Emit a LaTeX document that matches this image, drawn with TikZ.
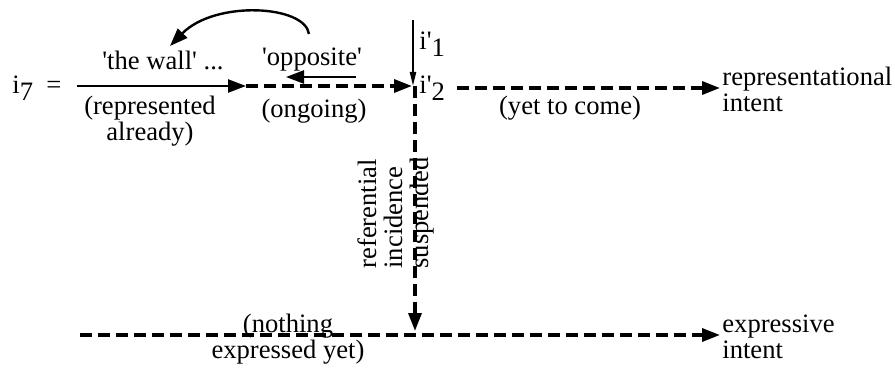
\documentclass[tikz,border=0pt]{standalone}
\usepackage{fontspec}
\setmainfont{Liberation Serif}
\usetikzlibrary{arrows.meta}
\newcommand{\lowidx}[1]{\raisebox{-0.6ex}{#1}}
\newcommand{\tick}{\textquotesingle}

\begin{document}
\begin{tikzpicture}[
  x=0.5pt,
  y=-0.5pt,
  font=\fontsize{13.3}{13}\selectfont,
  lbl/.style={inner sep=1pt, align=center},
  solidflow/.style={-{Triangle[length=9pt,width=6.5pt]}, line width=1.2pt},
  dashflow/.style={-{Triangle[length=9pt,width=6.5pt]}, line width=1.7pt,
    dash pattern=on 6pt off 3pt},
  thinflow/.style={-{Triangle[length=7pt,width=3pt]}, line width=1pt}
]
\useasboundingbox (0,0) rectangle (895,369);

% labels of the upper line
\node[lbl, anchor=west] (lhs) at (10,88) {i\lowidx{7}\ \ =};
\node[lbl] (wall) at (163,60) {\tick the wall\tick\ ...};
\node[lbl] (opposite) at (312,60) {\tick opposite\tick};
\node[lbl, font=\fontsize{13.3}{11}\selectfont] (represented) at (150,121)
  {(represented\\already)};
\node[lbl] (ongoing) at (314,111) {(ongoing)};
\node[lbl] (yet) at (570,108) {(yet to come)};
\node[lbl, anchor=west] (i1) at (417,44) {i\tick\lowidx{1}};
\node[lbl, anchor=west] (i2) at (417,88) {i\tick\lowidx{2}};
\node[lbl, align=left, anchor=west] (repint) at (720,89)
  {representational\\intent};

% labels of the lower line
\node[lbl, rotate=90, align=left] (suspended) at (396,213)
  {referential\\incidence\\suspended};
\node[lbl] (nothing) at (288,339) {(nothing\\expressed yet)};
\node[lbl, align=left, anchor=west] (expint) at (720,337)
  {expressive\\intent};

\coordinate (start) at (77,86);
\coordinate (split) at (246,86);
\coordinate (ongoingend) at (412,86);
\coordinate (cross) at (415,86);
\coordinate (top) at (413,20);
\coordinate (low) at (415,331);
\coordinate (exstart) at (80,335);
\coordinate (oppright) at (356,77);
\coordinate (oppleft) at (286,77);
\coordinate (arcstart) at (309,34);
\coordinate (arcend) at (170,46);

\draw[solidflow] (start) -- (split);
\draw[dashflow] (split) -- (ongoingend);
\draw[thinflow] (top) -- (top |- cross);
\draw[dashflow] (cross) -- (low);
\draw[dashflow, shorten <=5pt] (i2.east) -- (i2.east -| repint.west);
\draw[dashflow] (exstart) -- (exstart -| expint.west);
\draw[solidflow] (oppright) -- (oppleft);
\draw[solidflow] (arcstart) .. controls (305,5) and (215,0) .. (arcend);

\end{tikzpicture}
\end{document}
